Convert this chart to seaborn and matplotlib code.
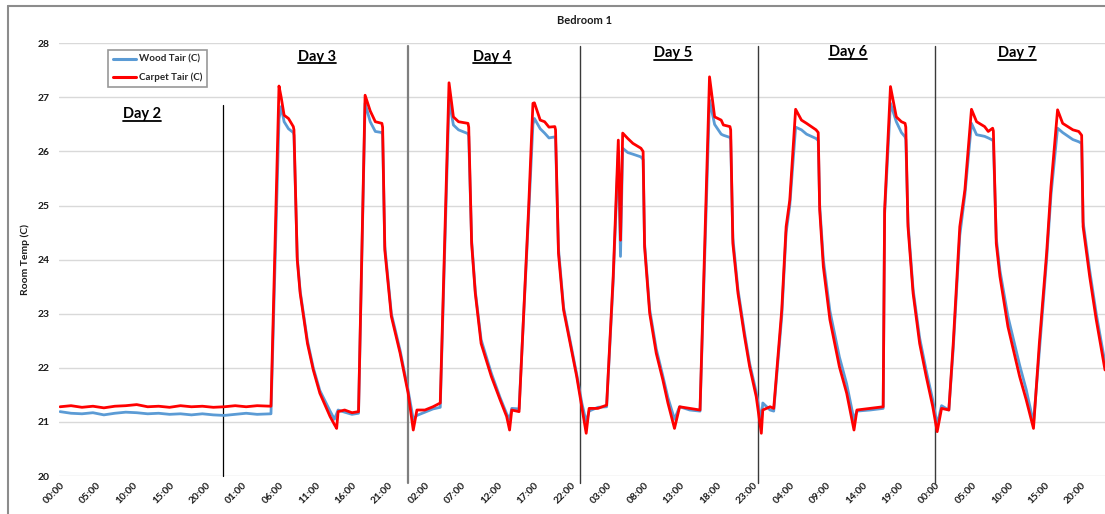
import numpy as np
import pandas as pd
import matplotlib
matplotlib.use("Agg")
import matplotlib.pyplot as plt
from matplotlib.lines import Line2D
import seaborn as sns

# ---------------- data ----------------
hours = [0, 1.5, 3, 4.5, 6, 7.5, 9, 10.5, 12, 13.5, 15, 16.5, 18, 19.5, 21, 22.5, 24, 25.5, 27, 28.9,
         30.0, 30.3, 30.7, 31.3, 31.96, 32.05, 32.5, 32.9, 33.9, 34.7, 35.6, 37.0, 37.6, 37.9, 38.1, 39.0, 40.0, 40.9,
         41.8, 42.5, 43.2, 44.1, 44.2, 44.5, 45.4, 46.6, 47.7, 48.4, 48.9, 50.0, 51.1, 52.1,
         53.3, 53.9, 54.6, 55.9, 56.0, 56.4, 56.9, 57.7, 59.1, 60.3, 61.2, 61.6, 61.9, 62.9,
         64.2, 64.8, 65.0, 65.8, 66.4, 67.0, 67.8, 67.9, 68.3, 69.0, 69.9, 70.8, 71.5, 72.1, 72.5, 73.7, 74.9,
         75.8, 76.5, 76.8, 77.1, 77.8, 78.5, 79.6, 79.9, 80.1, 80.8, 81.7, 82.6, 83.3, 84.2, 84.9, 86.3, 87.7,
         89.0, 89.7, 90.6, 90.9, 91.8, 91.9, 92.2, 92.9, 93.8, 94.5, 95.4, 96.1, 96.3, 97.3, 97.8,
         98.9, 99.5, 100.0, 100.8, 101.6, 102.3, 103.6, 103.9, 104.1, 104.6, 105.5, 106.8, 107.8, 108.8, 109.2, 111.0, 112.8,
         113.0, 113.8, 114.6, 115.3, 115.8, 115.9, 116.2, 116.9, 117.8, 118.7, 119.6, 120.2, 120.8, 121.8,
         122.4, 123.3, 124.0, 124.9, 125.6, 126.7, 127.2, 127.8, 127.9, 128.3, 128.8, 129.9, 131.5, 132.4, 133.4,
         134.2, 135.2, 135.8, 136.7, 137.4, 138.8, 139.6, 140.0, 140.2, 141.1, 142.0, 143.2]

carpet = [21.28, 21.30, 21.27, 21.29, 21.26, 21.29, 21.30, 21.32, 21.28, 21.29, 21.27, 21.30, 21.28, 21.29, 21.27, 21.28, 21.30, 21.28, 21.30, 21.29,
          27.21, 27.00, 26.67, 26.61, 26.46, 26.40, 24.00, 23.38, 22.45, 21.96, 21.53, 21.10, 20.95, 20.88, 21.19, 21.22, 21.17, 21.19,
          27.04, 26.75, 26.55, 26.52, 26.45, 24.18, 22.95, 22.27, 21.53, 20.85, 21.22, 21.22, 21.28, 21.35,
          27.27, 26.64, 26.55, 26.52, 26.45, 24.30, 23.38, 22.45, 21.84, 21.41, 21.10, 20.85, 21.22, 21.19,
          24.92, 26.89, 26.90, 26.58, 26.55, 26.45, 26.46, 26.40, 24.12, 23.07, 22.45, 21.84, 21.28, 20.79, 21.25, 21.25, 21.31,
          23.69, 26.21, 24.36, 26.34, 26.24, 26.15, 26.06, 26.00, 24.24, 23.01, 22.27, 21.78, 21.35, 20.88, 21.28, 21.25, 21.22,
          27.38, 26.64, 26.58, 26.49, 26.46, 26.40, 24.30, 23.38, 22.58, 22.02, 21.47, 20.79, 21.22, 21.28, 21.25,
          23.07, 24.61, 25.10, 26.78, 26.58, 26.52, 26.40, 26.35, 24.92, 23.87, 22.89, 22.02, 21.53, 20.85, 21.22, 21.25, 21.28,
          24.92, 27.20, 26.64, 26.55, 26.52, 26.45, 24.61, 23.38, 22.45, 21.84, 21.28, 20.82, 21.25, 21.22,
          22.45, 24.61, 25.29, 26.78, 26.55, 26.46, 26.37, 26.43, 26.38, 24.30, 23.69, 22.76, 21.84, 21.41, 20.88,
          22.45, 24.12, 25.35, 26.77, 26.52, 26.40, 26.37, 26.30, 24.61, 23.69, 22.89, 21.96]

wood = [21.19, 21.16, 21.15, 21.17, 21.13, 21.16, 21.18, 21.17, 21.15, 21.16, 21.14, 21.15, 21.13, 21.15, 21.13, 21.12, 21.14, 21.16, 21.14, 21.15,
        26.60, 26.83, 26.55, 26.42, 26.35, 26.30, 24.05, 23.42, 22.50, 22.00, 21.58, 21.20, 21.05, 21.15, 21.22, 21.18, 21.14, 21.16,
        26.89, 26.55, 26.37, 26.35, 26.30, 24.25, 23.00, 22.32, 21.58, 21.05, 21.12, 21.18, 21.24, 21.27,
        26.95, 26.49, 26.40, 26.33, 26.28, 24.35, 23.42, 22.52, 21.90, 21.45, 21.15, 21.05, 21.25, 21.24,
        24.80, 26.50, 26.61, 26.42, 26.34, 26.25, 26.27, 26.22, 24.20, 23.12, 22.50, 21.88, 21.35, 21.00, 21.20, 21.27, 21.28,
        23.60, 26.00, 24.06, 26.06, 25.98, 25.95, 25.90, 25.85, 24.30, 23.08, 22.35, 21.85, 21.45, 21.05, 21.28, 21.22, 21.20,
        26.95, 26.50, 26.32, 26.30, 26.26, 26.22, 24.40, 23.45, 22.65, 22.08, 21.55, 21.00, 21.35, 21.22, 21.20,
        22.95, 24.50, 25.00, 26.45, 26.40, 26.32, 26.24, 26.20, 25.00, 24.00, 23.05, 22.20, 21.70, 21.04, 21.20, 21.22, 21.25,
        24.85, 26.89, 26.55, 26.35, 26.27, 26.22, 24.70, 23.45, 22.55, 21.95, 21.40, 20.95, 21.30, 21.22,
        22.35, 24.45, 25.20, 26.52, 26.31, 26.28, 26.25, 26.21, 26.18, 24.40, 23.80, 22.95, 22.05, 21.60, 20.98,
        22.30, 24.00, 25.20, 26.43, 26.35, 26.22, 26.18, 26.15, 24.70, 23.80, 23.00, 22.09]

tick_hours = list(range(0, 141, 5))
tick_labels = ["00:00", "05:00", "10:00", "15:00", "20:00", "01:00", "06:00", "11:00", "16:00", "21:00",
               "02:00", "07:00", "12:00", "17:00", "22:00", "03:00", "08:00", "13:00", "18:00", "23:00",
               "04:00", "09:00", "14:00", "19:00", "00:00", "05:00", "10:00", "15:00", "20:00"]
y_ticks = [20, 21, 22, 23, 24, 25, 26, 27, 28]

day_labels = ["Day 2", "Day 3", "Day 4", "Day 5", "Day 6", "Day 7"]
day_label_x = [11.2, 35.2, 59.2, 84.0, 108.0, 131.2]
day_label_y = [26.69, 27.75, 27.75, 27.82, 27.83, 27.82]
day_line_x = [22.32, 47.68, 71.25, 95.64, 119.9]

series_names = ["Wood Tair (C)", "Carpet Tair (C)"]
colors = {"Wood Tair (C)": "#5B9BD5", "Carpet Tair (C)": "#FF0000"}

# ---------------- figure ----------------
sns.set_theme(style="white")
plt.rcParams["font.family"] = ["Lato", "DejaVu Sans"]

W, H = 1105, 514
fig = plt.figure(figsize=(W / 100, H / 100), dpi=100)
ax_left, ax_right, ax_bottom, ax_top = 59, 1105, 476, 43.3
ax = fig.add_axes([ax_left / W, (H - ax_bottom) / H, (ax_right - ax_left) / W, (ax_bottom - ax_top) / H])

df = pd.DataFrame({
    "hours": hours * 2,
    "temp": wood + carpet,
    "series": [series_names[0]] * len(hours) + [series_names[1]] * len(hours),
})
sns.lineplot(data=df, x="hours", y="temp", hue="series", hue_order=series_names, palette=colors,
             estimator=None, sort=False, linewidth=2.0, ax=ax, legend=False)

ax.set_xlim(-0.15, 143.2)
ax.set_ylim(20, 28)
ax.set_yticks(y_ticks)
ax.set_yticklabels([str(v) for v in y_ticks], fontsize=7.5, fontweight="bold", color="#1a1a1a")
ax.set_xticks(tick_hours)
ax.set_xticklabels(tick_labels, rotation=45, ha="right", rotation_mode="anchor",
                   fontsize=7.3, fontweight="bold", color="#1a1a1a")
ax.tick_params(axis="x", length=0, pad=3)
ax.tick_params(axis="y", length=0, pad=7)
ax.grid(axis="y", color="#D9D9D9", linewidth=1)
ax.grid(axis="x", visible=False)
for s in ax.spines.values():
    s.set_visible(False)
ax.set_xlabel("")
ax.set_ylabel("Room Temp (C)", fontsize=7.5, fontweight="bold", color="#1a1a1a")
ax.yaxis.set_label_coords((30 - ax_left) / (ax_right - ax_left), 0.5)

# day separator lines
for i, xv in enumerate(day_line_x):
    if i == 0:
        ax.plot([xv, xv], [20, 26.86], color="#000000", lw=0.9, clip_on=False, zorder=1)
    else:
        col = "#7f7f7f" if i == 1 else "#3a3a3a"
        lw = 1.6 if i == 1 else 1.0
        ax.plot([xv, xv], [19.87, 27.95], color=col, lw=lw, clip_on=False, zorder=1)

# day labels (bold, underlined)
day_texts = []
for lab, xv, yv in zip(day_labels, day_label_x, day_label_y):
    t = ax.text(xv, yv, lab, ha="center", va="center", fontsize=10.5, fontweight="bold", color="#000000")
    day_texts.append(t)

# title
fig.text(585 / W, 1 - 20 / H, "Bedroom 1", ha="center", va="center", fontsize=8, fontweight="bold", color="#1a1a1a")

# legend
handles = [Line2D([0], [0], color=colors[n], lw=2.2) for n in series_names]
leg = ax.legend(handles, series_names, loc="upper left",
                bbox_to_anchor=((108 - ax_left) / (ax_right - ax_left), (ax_bottom - 50) / (ax_bottom - ax_top)),
                borderaxespad=0, frameon=True, fancybox=False, edgecolor="#7f7f7f",
                prop={"size": 7, "weight": "bold"}, handlelength=2.4, handletextpad=0.3,
                labelspacing=0.9, borderpad=0.5)
leg.get_frame().set_linewidth(1.2)

# chart border (left and top visible)
fig.add_artist(Line2D([8 / W, 8 / W], [0, 1 - 6 / H], color="#8c8c8c", lw=1.5, transform=fig.transFigure))
fig.add_artist(Line2D([8 / W, 1], [1 - 6 / H, 1 - 6 / H], color="#8c8c8c", lw=1.5, transform=fig.transFigure))

# underline day labels
fig.canvas.draw()
renderer = fig.canvas.get_renderer()
for t in day_texts:
    bb = t.get_window_extent(renderer=renderer)
    yline = bb.y0 + 0.5
    fig.add_artist(Line2D([bb.x0 / W, bb.x1 / W], [yline / H, yline / H], color="#000000", lw=1.3,
                          transform=fig.transFigure))

fig.savefig("out.png", dpi=100)
